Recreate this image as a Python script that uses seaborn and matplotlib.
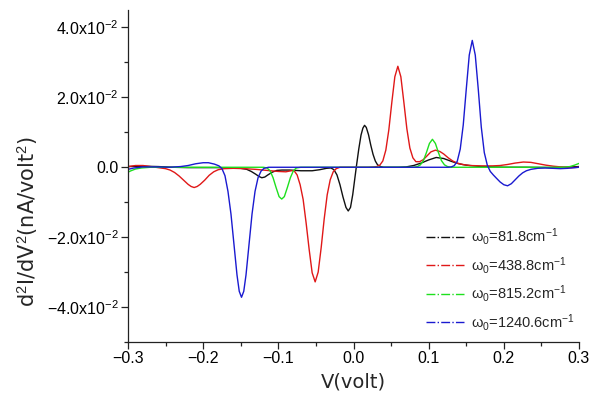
import matplotlib
matplotlib.use("Agg")
import matplotlib.pyplot as plt
from matplotlib.lines import Line2D
from matplotlib.ticker import MultipleLocator, FuncFormatter
import numpy as np
import pandas as pd
import seaborn as sns

# ---- data (y in units of 1e-2 nA/volt^2) ----
black_v = [-0.300, -0.280, -0.260, -0.240, -0.220, -0.200, -0.180, -0.160, -0.150, -0.142,
           -0.136, -0.130, -0.126, -0.122, -0.118, -0.114, -0.108, -0.102, -0.095, -0.085,
           -0.070, -0.055, -0.045, -0.036, -0.030, -0.026, -0.022, -0.018, -0.014, -0.010,
           -0.007, -0.004, -0.001, 0.002, 0.004, 0.007, 0.010, 0.0125, 0.0147, 0.017,
           0.020, 0.023, 0.026, 0.029, 0.032, 0.036, 0.040, 0.050, 0.060, 0.070,
           0.080, 0.090, 0.100, 0.110, 0.120, 0.130, 0.140, 0.150, 0.160, 0.170,
           0.185, 0.200, 0.230, 0.260, 0.280, 0.300]
black_y = [0.02, 0.03, 0.02, 0.00, -0.01, -0.01, -0.01, -0.02, -0.03, -0.06,
           -0.12, -0.20, -0.26, -0.30, -0.28, -0.22, -0.14, -0.09, -0.08, -0.08,
           -0.10, -0.10, -0.07, -0.03, -0.02, -0.07, -0.22, -0.50, -0.85, -1.15,
           -1.25, -1.15, -0.78, -0.28, 0.05, 0.52, 0.92, 1.12, 1.20, 1.14,
           0.93, 0.63, 0.37, 0.18, 0.07, 0.02, 0.00, 0.00, 0.00, 0.01,
           0.05, 0.12, 0.21, 0.28, 0.25, 0.17, 0.10, 0.06, 0.04, 0.02,
           0.01, 0.00, 0.00, -0.01, 0.00, 0.02]

red_v = [-0.300, -0.290, -0.280, -0.270, -0.260, -0.250, -0.244, -0.238, -0.232, -0.226,
         -0.220, -0.216, -0.212, -0.208, -0.204, -0.198, -0.192, -0.186, -0.180, -0.172,
         -0.160, -0.145, -0.130, -0.115, -0.100, -0.090, -0.083, -0.079, -0.075, -0.071,
         -0.067, -0.063, -0.059, -0.055, -0.051, -0.047, -0.043, -0.039, -0.035, -0.031,
         -0.027, -0.023, -0.018, 0.000, 0.020, 0.027, 0.031, 0.035, 0.039, 0.043,
         0.047, 0.051, 0.055, 0.059, 0.063, 0.067, 0.071, 0.075, 0.079, 0.083,
         0.088, 0.093, 0.098, 0.103, 0.109, 0.115, 0.120, 0.126, 0.132, 0.138,
         0.145, 0.155, 0.170, 0.185, 0.195, 0.205, 0.215, 0.226, 0.236, 0.246,
         0.256, 0.266, 0.276, 0.290, 0.300]
red_y = [0.02, 0.05, 0.05, 0.02, -0.01, -0.04, -0.08, -0.15, -0.25, -0.37,
         -0.49, -0.55, -0.58, -0.55, -0.49, -0.37, -0.23, -0.13, -0.07, -0.04,
         -0.03, -0.04, -0.06, -0.09, -0.12, -0.13, -0.10, -0.10, -0.22, -0.50,
         -0.92, -1.60, -2.35, -3.02, -3.28, -3.00, -2.30, -1.48, -0.79, -0.36,
         -0.13, -0.04, 0.00, 0.00, 0.00, 0.01, 0.02, 0.06, 0.18, 0.49,
         1.07, 1.86, 2.59, 2.89, 2.59, 1.86, 1.10, 0.55, 0.27, 0.16,
         0.16, 0.22, 0.33, 0.44, 0.49, 0.45, 0.38, 0.27, 0.18, 0.12,
         0.08, 0.05, 0.04, 0.04, 0.05, 0.08, 0.12, 0.15, 0.14, 0.10,
         0.06, 0.03, 0.01, -0.01, 0.00]

green_v = [-0.300, -0.296, -0.290, -0.282, -0.270, -0.200, -0.150, -0.120, -0.115, -0.111,
           -0.107, -0.103, -0.099, -0.0955, -0.092, -0.088, -0.084, -0.080, -0.076, -0.070,
           0.000, 0.080, 0.085, 0.089, 0.093, 0.097, 0.101, 0.105, 0.109, 0.113,
           0.117, 0.121, 0.125, 0.130, 0.280, 0.288, 0.294, 0.300]
green_y = [-0.14, -0.10, -0.05, -0.02, 0.00, 0.00, 0.00, 0.00, -0.02, -0.10,
           -0.30, -0.58, -0.84, -0.91, -0.84, -0.58, -0.30, -0.10, -0.02, 0.00,
           0.00, 0.00, 0.02, 0.07, 0.19, 0.42, 0.68, 0.80, 0.68, 0.42,
           0.19, 0.07, 0.02, 0.00, 0.00, 0.02, 0.06, 0.11]

blue_v = [-0.300, -0.292, -0.280, -0.260, -0.245, -0.230, -0.220, -0.210, -0.200, -0.193,
          -0.185, -0.179, -0.175, -0.171, -0.167, -0.163, -0.159, -0.155, -0.152, -0.149,
          -0.146, -0.143, -0.139, -0.135, -0.131, -0.127, -0.123, -0.119, -0.113, 0.000,
          0.126, 0.130, 0.134, 0.138, 0.142, 0.146, 0.150, 0.154, 0.158, 0.162,
          0.166, 0.170, 0.174, 0.178, 0.182, 0.186, 0.190, 0.195, 0.200, 0.205,
          0.210, 0.215, 0.220, 0.225, 0.230, 0.236, 0.245, 0.255, 0.265, 0.275,
          0.285, 0.295, 0.300]
blue_y = [-0.06, -0.02, 0.01, 0.01, 0.00, 0.02, 0.05, 0.10, 0.13, 0.13,
          0.09, 0.04, -0.04, -0.24, -0.69, -1.34, -2.21, -3.08, -3.55, -3.72,
          -3.55, -3.08, -2.21, -1.34, -0.69, -0.30, -0.11, -0.03, 0.00, 0.00,
          0.00, 0.01, 0.045, 0.17, 0.52, 1.21, 2.23, 3.21, 3.63, 3.21,
          2.23, 1.15, 0.42, 0.06, -0.12, -0.22, -0.31, -0.42, -0.50, -0.53,
          -0.47, -0.36, -0.25, -0.16, -0.10, -0.06, -0.03, -0.02, -0.03, -0.04,
          -0.03, -0.01, 0.00]

series_labels = ["\u03c9$_0$=81.8cm$^{-1}$", "\u03c9$_0$=438.8cm$^{-1}$",
                 "\u03c9$_0$=815.2cm$^{-1}$", "\u03c9$_0$=1240.6cm$^{-1}$"]
series_colors = ["#111111", "#e01818", "#1ee01e", "#1a1ad0"]

y_ticks = [-4.0, -2.0, 0.0, 2.0, 4.0]
x_ticks = [-0.3, -0.2, -0.1, 0.0, 0.1, 0.2, 0.3]

# ---- build long table ----
frames = []
for lab, v, y in zip(series_labels, [black_v, red_v, green_v, blue_v],
                     [black_y, red_y, green_y, blue_y]):
    frames.append(pd.DataFrame({"V": v, "d2": y, "series": lab}))
df = pd.concat(frames, ignore_index=True)

sns.set_style("ticks")
plt.rcParams["font.family"] = ["Liberation Sans", "DejaVu Sans"]
plt.rcParams["mathtext.fontset"] = "custom"
plt.rcParams["mathtext.rm"] = "Liberation Sans"
plt.rcParams["mathtext.it"] = "Liberation Sans:italic"
plt.rcParams["axes.unicode_minus"] = True

W, H = 591, 408
fig = plt.figure(figsize=(W / 100, H / 100), dpi=100)
ax = fig.add_axes([128 / W, 1 - 342 / H, (579 - 128) / W, (342 - 10) / H])

sns.lineplot(data=df, x="V", y="d2", hue="series", palette=dict(zip(series_labels, series_colors)),
             hue_order=series_labels, sort=False, estimator=None, legend=False,
             linewidth=1.0, ax=ax)

ax.set_xlim(-0.3, 0.3)
ax.set_ylim(-5.0, 4.5)
ax.set_xticks(x_ticks)
ax.xaxis.set_minor_locator(MultipleLocator(0.05))
ax.set_yticks(y_ticks)
ax.yaxis.set_minor_locator(MultipleLocator(1.0))

def xfmt(v, pos):
    s = f"{v:.1f}"
    if s == "-0.0":
        s = "0.0"
    return s.replace("-", "\u2212")

def yfmt(v, pos):
    if abs(v) < 1e-9:
        return "0.0"
    s = f"{v:.1f}".replace("-", "\u2212")
    return s + r"x10$^{-2}$"

ax.xaxis.set_major_formatter(FuncFormatter(xfmt))
ax.yaxis.set_major_formatter(FuncFormatter(yfmt))

sns.despine(ax=ax)
for sp in ["left", "bottom"]:
    ax.spines[sp].set_linewidth(0.9)
    ax.spines[sp].set_color("#222222")
ax.tick_params(which="major", direction="out", length=4.8, width=0.9, labelsize=11.5,
               colors="#222222", labelcolor="black", pad=2)
ax.tick_params(which="minor", direction="out", length=2.9, width=0.9, colors="#222222")

ax.set_xlabel("V(volt)", fontsize=14, labelpad=4, family=["DejaVu Sans"])
ax.set_ylabel("d$^2$I/dV$^2$(nA/volt$^2$)", fontsize=15, family=["DejaVu Sans"])
ax.yaxis.set_label_coords((40 - 128) / 451, (342 - 222) / 332)

handles = [Line2D([0], [0], color=c, linestyle="-.", linewidth=1.0) for c in series_colors]
ax.legend(handles, series_labels, loc="lower right", bbox_to_anchor=(1.02, -0.012),
          frameon=False, fontsize=10.5, handlelength=2.6, handletextpad=0.5,
          labelspacing=0.52)

fig.savefig("out.png", dpi=100)
